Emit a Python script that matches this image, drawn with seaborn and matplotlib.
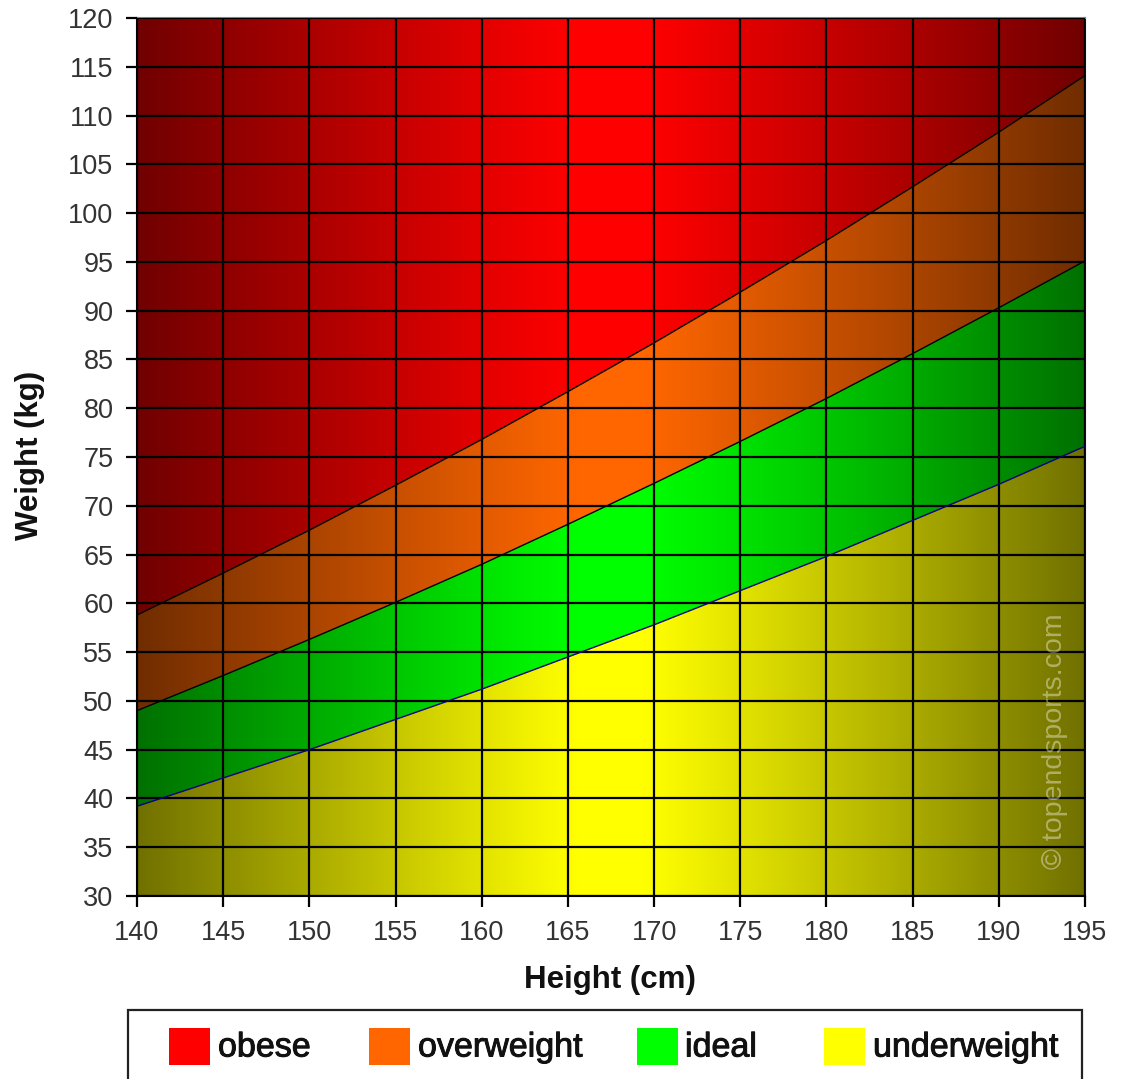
import numpy as np
import pandas as pd
import matplotlib
matplotlib.use("Agg")
import matplotlib.pyplot as plt
import matplotlib.patheffects as pe
from matplotlib.patches import Polygon, Rectangle
import seaborn as sns

# ---- data ----
heights = [140, 145, 150, 155, 160, 165, 170, 175, 180, 185, 190, 195]
lower_ideal = [39.2, 42.1, 45.0, 48.1, 51.2, 54.5, 57.8, 61.3, 64.8, 68.5, 72.2, 76.1]
lower_over = [49.0, 52.6, 56.3, 60.1, 64.0, 68.1, 72.3, 76.6, 81.0, 85.6, 90.3, 95.1]
lower_obese = [58.8, 63.1, 67.5, 72.1, 76.8, 81.7, 86.7, 91.9, 97.2, 102.7, 108.3, 114.1]
y_min, y_max = 30, 120
categories = ["obese", "overweight", "ideal", "underweight"]
cat_colors = {"obese": "#ff0000", "overweight": "#ff6600",
              "ideal": "#00ff00", "underweight": "#ffff00"}
x_ticks = list(range(140, 200, 5))
y_ticks = list(range(30, 125, 5))

sns.set_style("white")
plt.rcParams["font.family"] = ["Liberation Sans", "DejaVu Sans"]

W, H = 1124, 1079
fig = plt.figure(figsize=(W / 100, H / 100), dpi=100)
ax = fig.add_axes([137 / W, 1 - 896 / H, (1085 - 137) / W, (896 - 18) / H])

x0, x1 = heights[0], heights[-1]
ax.set_xlim(x0, x1)
ax.set_ylim(y_min, y_max)

bands = {
    "underweight": ([y_min] * len(heights), lower_ideal),
    "ideal": (lower_ideal, lower_over),
    "overweight": (lower_over, lower_obese),
    "obese": (lower_obese, [y_max] * len(heights)),
}

# horizontal shading profile: dark at the edges, bright in the middle
xs = np.linspace(x0, x1, 600)
mid = (x0 + x1) / 2
d = np.clip((np.abs(xs - mid) - 2.0) / ((x1 - x0) / 2 - 2.0), 0, 1)
shade = 1 - 0.56 * d ** 1.05

for cat in categories:
    lo, hi = bands[cat]
    rgb = np.array(matplotlib.colors.to_rgb(cat_colors[cat]))
    img = (shade[:, None] * rgb[None, :])[None, :, :]
    im = ax.imshow(img, extent=[x0, x1, y_min, y_max], aspect="auto",
                   origin="lower", zorder=0, interpolation="bilinear")
    verts = list(zip(heights, lo)) + list(zip(heights[::-1], hi[::-1]))
    poly = Polygon(verts, closed=True, transform=ax.transData,
                   facecolor="none", edgecolor="none")
    ax.add_patch(poly)
    im.set_clip_path(poly)

# boundary lines via seaborn
df = pd.DataFrame({"height": heights * 3,
                   "weight": lower_ideal + lower_over + lower_obese,
                   "boundary": ["ideal"] * 12 + ["over"] * 12 + ["obese"] * 12})
sns.lineplot(data=df, x="height", y="weight", hue="boundary",
             palette={"ideal": "#000080", "over": "#000000", "obese": "#000000"},
             linewidth=1.0, legend=False, ax=ax, zorder=3)

ax.set_xticks(x_ticks)
ax.set_yticks(y_ticks)
ax.grid(True, color="black", linewidth=1.6)
ax.set_axisbelow(False)
ax.tick_params(axis="both", direction="out", length=8, width=1.6,
               color="black", labelsize=19.5, labelcolor="#333333", pad=9)
ax.tick_params(axis="both", bottom=True, left=True)

for side, col in [("left", "black"), ("bottom", "black"),
                  ("top", "#808080"), ("right", "#000080")]:
    ax.spines[side].set_visible(True)
    ax.spines[side].set_color(col)
    ax.spines[side].set_linewidth(1.5)

ax.set_xlabel("Height (cm)", fontsize=22.5, fontweight="bold", color="#111111")
ax.set_ylabel("Weight (kg)", fontsize=22.5, fontweight="bold", color="#111111")
ax.xaxis.label.set_va("center")
ax.yaxis.label.set_va("center")
ax.xaxis.set_label_coords((610 - 137) / 948, (896 - 980) / 878)
ax.yaxis.set_label_coords((30 - 137) / 948, (896 - 455) / 878)

# watermark
fig.text(1055 / W, 1 - 741 / H, "© topendsports.com", rotation=90,
         ha="center", va="center", fontsize=20.5, color="white", alpha=0.4)

# legend box
fig.patches.append(Rectangle((128 / W, -0.02), (1082 - 128) / W, (1 - 1010 / H) + 0.02,
                             transform=fig.transFigure, facecolor="white",
                             edgecolor="#222222", linewidth=1.6))
sq_x = [169, 369, 637, 824]
txt_x = [218, 418, 685, 873]
for cat, sx, tx in zip(categories, sq_x, txt_x):
    fig.patches.append(Rectangle((sx / W, 1 - 1065 / H), 41 / W, 37 / H,
                                 transform=fig.transFigure,
                                 facecolor=cat_colors[cat], edgecolor="none"))
    fig.text(tx / W, 1 - 1048 / H, cat, ha="left", va="center",
             fontsize=24.5, color="#111111",
             path_effects=[pe.withStroke(linewidth=0.7, foreground="#111111")])

fig.savefig("out.png", dpi=100)
